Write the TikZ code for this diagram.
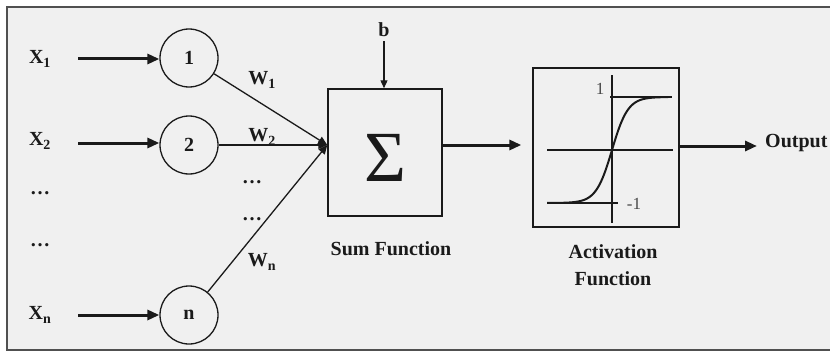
\documentclass[tikz,border=0pt]{standalone}
\usepackage{fontspec}
\setmainfont{Liberation Serif}
\usetikzlibrary{arrows.meta}
\definecolor{bgc}{HTML}{F0F0F0}
\definecolor{framec}{HTML}{505050}
\definecolor{inkc}{HTML}{1A1A1A}
\begin{document}
\begin{tikzpicture}[x=1pt,y=1pt,
  lbl/.style={font=\fontsize{20}{23}\selectfont\bfseries, text=inkc, inner sep=0pt},
  neuron/.style={draw=inkc, line width=1.3pt, circle, minimum size=58pt, inner sep=0pt, font=\fontsize{20}{23}\selectfont\bfseries, text=inkc},
  thickarrow/.style={draw=inkc, line width=3pt, -{Triangle[length=12pt,width=10pt]}},
  thinarrow/.style={draw=inkc, line width=1.3pt, -{Triangle[length=8pt,width=7pt]}},
  wline/.style={draw=inkc, line width=1.3pt, -{Triangle[length=9pt,width=8pt]}},
  boxstyle/.style={draw=inkc, line width=1.5pt, rectangle, inner sep=0pt},
  axisline/.style={draw=inkc, line width=2.8pt},
]
\useasboundingbox (0,0) rectangle (830,357);
\path[fill=bgc, draw=framec, line width=1.3pt] (7,350) rectangle (850,7);

% inputs
\node[lbl] (x1) at (40,298) {X\textsubscript{1}};
\node[lbl] (x2) at (40,216) {X\textsubscript{2}};
\node[lbl] (d1) at (40,164) {\dots};
\node[lbl] (d2) at (40,112) {\dots};
\node[lbl] (xn) at (40,42) {X\textsubscript{n}};

\node[neuron] (c1) at (189,299) {1};
\node[neuron] (c2) at (189,212) {2};
\node[neuron] (cn) at (189,42) {n};

\coordinate (a1) at (78,298);
\coordinate (a2) at (78,214);
\coordinate (an) at (78,42);
\draw[thickarrow] (a1) -- (c1.west |- a1);
\draw[thickarrow] (a2) -- (c2.west |- a2);
\draw[thickarrow] (an) -- (cn.west);

% sum box
\node[boxstyle, minimum width=114pt, minimum height=127pt] (sum) at (385,204.5) {};
\node[font=\fontsize{72}{72}\selectfont, text=inkc, inner sep=0pt] (sig) at (385,199) {Σ};
\coordinate (s) at (sum.west |- c2);
\draw[wline] (c1) -- (s);
\draw[wline] (c2) -- (s);
\draw[wline] (cn) -- (s);

\node[lbl] (w1) at (262,277) {W\textsubscript{1}};
\node[lbl] (w2) at (262,220) {W\textsubscript{2}};
\node[lbl] (wd1) at (252,175) {\dots};
\node[lbl] (wd2) at (252,138) {\dots};
\node[lbl] (wn) at (262,95) {W\textsubscript{n}};

\node[lbl] (b) at (384,327) {b};
\draw[thinarrow] (b.south) ++(0,-4) coordinate (bs) (bs) -- (sum.north -| b);

\node[lbl] (sumlbl) at (391,108) {Sum Function};

% activation box
\node[boxstyle, line width=1.3pt, minimum width=146pt, minimum height=159pt] (act) at (606,209.5) {};
\draw[thickarrow, shorten >=11pt] (sum.east |- s) -- (act.west |- s);

\begin{scope}
\draw[axisline] (547,207) -- (673,207);
\draw[axisline] (612,282) -- (612,134);
\draw[axisline] (610,260) -- (672,260);
\draw[axisline] (547,154) -- (618,154);
\draw[draw=inkc, line width=2pt, smooth, samples=80, domain=547:668] plot (\x, {207+53*tanh((\x-612)/16)});
\end{scope}
\node[font=\fontsize{17}{19}\selectfont, text=inkc!80, inner sep=0pt] (one) at (600,268) {1};
\node[font=\fontsize{17}{19}\selectfont, text=inkc!80, inner sep=0pt] (mone) at (634,153) {-1};

\node[lbl, align=center, font=\fontsize{20}{27}\selectfont\bfseries] (actlbl) at (613,92) {Activation\\Function};

\node[lbl, anchor=west] (out) at (765,214) {Output};
\draw[thickarrow, shorten >=8pt] (act.east |- 0,211) -- (out.west |- 0,211);
\end{tikzpicture}
\end{document}
